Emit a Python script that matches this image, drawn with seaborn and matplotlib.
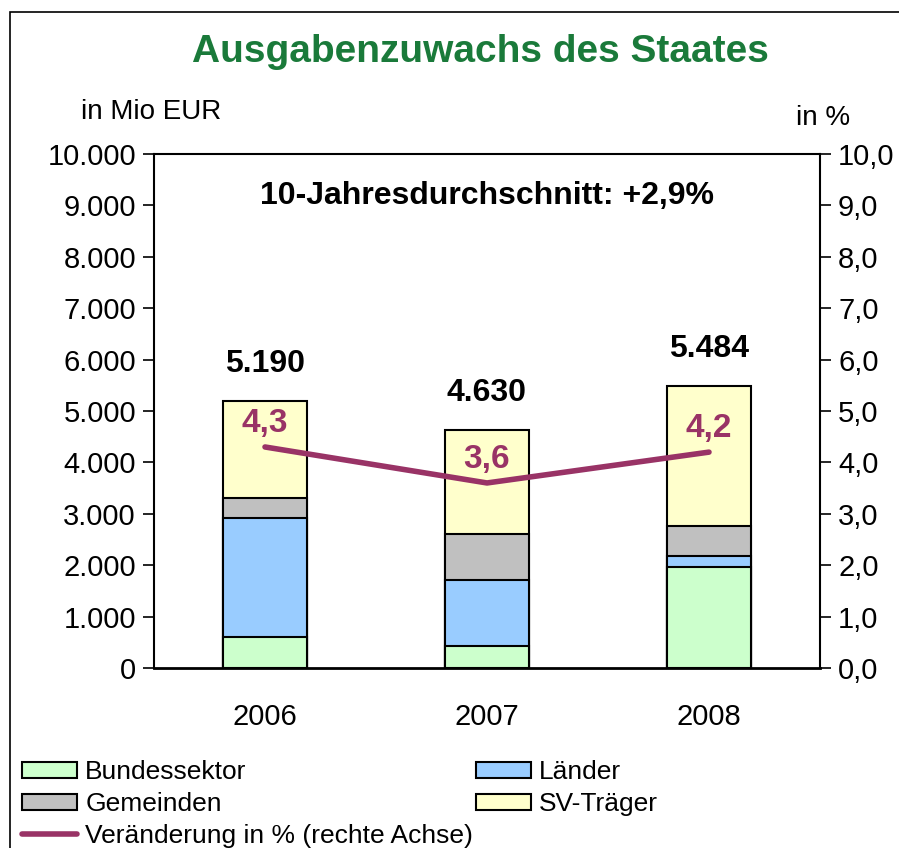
import numpy as np
import pandas as pd
import matplotlib
matplotlib.use('Agg')
from matplotlib import pyplot as plt
from matplotlib.patches import Patch, Rectangle
from matplotlib.lines import Line2D
import seaborn as sns

# DATA
years = ['2006', '2007', '2008']
bund = [600, 430, 1970]
laender = [2320, 1280, 210]
gemeinden = [390, 890, 580]
sv = [1880, 2030, 2724]
pct = [4.3, 3.6, 4.2]
left_ticks = [0, 1000, 2000, 3000, 4000, 5000, 6000, 7000, 8000, 9000, 10000]
right_ticks = [0, 1, 2, 3, 4, 5, 6, 7, 8, 9, 10]

layer_names = ['Bundessektor', 'Länder', 'Gemeinden', 'SV-Träger']
layer_colors = ['#CCFFCC', '#99CCFF', '#C0C0C0', '#FFFFCC']
line_color = '#993366'
title_color = '#1A7A3A'

sns.set_style('white')
plt.rcParams['font.family'] = ['Liberation Sans', 'DejaVu Sans']
plt.rcParams['text.color'] = 'black'
plt.rcParams['xtick.color'] = 'black'
plt.rcParams['ytick.color'] = 'black'
plt.rcParams['axes.labelcolor'] = 'black'

df = pd.DataFrame({'year': years, 'Bundessektor': bund, 'Länder': laender,
                   'Gemeinden': gemeinden, 'SV-Träger': sv})
cum = df[layer_names].cumsum(axis=1)
totals = cum['SV-Träger'].tolist()

fig = plt.figure(figsize=(8.99, 8.48), dpi=100)
ax = fig.add_axes([154/899, 1-668/848, 666/899, 514/848])

# stacked bars drawn as overlapping cumulative bars, top layer first
for name, col in reversed(list(zip(layer_names, layer_colors))):
    sns.barplot(x=df['year'], y=cum[name], color=col, saturation=1,
                edgecolor='black', linewidth=1.5, width=0.38, ax=ax)

ax.set_ylim(0, 10000)
ax.set_xlim(-0.5, 2.5)
ax.set_yticks(left_ticks)
ax.set_yticklabels([f"{v:,.0f}".replace(',', '.') for v in left_ticks])
ax.set_xticks([0, 1, 2])
ax.set_xticklabels(years)
ax.set_xticks([-0.5, 0.5, 1.5, 2.5], minor=True)
ax.tick_params(axis='x', which='major', length=0, pad=25, labelsize=21)
ax.tick_params(axis='x', which='minor', length=8, width=1.2, direction='out', color='black')
ax.tick_params(axis='y', length=8, width=1.2, direction='out', color='black', labelsize=21, pad=5)
ax.set_xlabel('')
ax.set_ylabel('')
for s in ax.spines.values():
    s.set_color('black')
    s.set_linewidth(1.5)
ax.spines['bottom'].set_linewidth(2)

for i, t in enumerate(totals):
    ax.annotate(f"{t:,.0f}".replace(',', '.'), (i, t), xytext=(0, 26.6),
                textcoords='offset points', ha='center', va='center',
                fontsize=23, fontweight='bold', color='black')

ax.text(0.5, 0.918, '10-Jahresdurchschnitt: +2,9%', transform=ax.transAxes,
        ha='center', va='center', fontsize=23, fontweight='bold', color='black')

ax2 = ax.twinx()
sns.lineplot(x=np.arange(len(years)), y=pct, color=line_color, linewidth=4,
             ax=ax2, legend=False)
ax2.set_ylim(0, 10)
ax2.set_xlim(-0.5, 2.5)
ax2.set_yticks(right_ticks)
ax2.set_yticklabels([f"{v:.1f}".replace('.', ',') for v in right_ticks])
ax2.tick_params(axis='y', length=8, width=1.2, direction='out', color='black', labelsize=21, pad=5)
ax2.set_ylabel('')
for s in ax2.spines.values():
    s.set_visible(False)
for i, p in enumerate(pct):
    ax2.annotate(f"{p:.1f}".replace('.', ','), (i, p), xytext=(0, 17),
                 textcoords='offset points', ha='center', va='center',
                 fontsize=24, fontweight='bold', color=line_color)

fig.text(480/899, 1-52/848, 'Ausgabenzuwachs des Staates', ha='center', va='center',
         fontsize=28, fontweight='bold', color=title_color)
fig.text(151/899, 1-112/848, 'in Mio EUR', ha='center', va='center', fontsize=20)
fig.text(823/899, 1-118/848, 'in %', ha='center', va='center', fontsize=20)

handles = [Patch(facecolor=layer_colors[0], edgecolor='black', linewidth=1.5),
           Patch(facecolor=layer_colors[2], edgecolor='black', linewidth=1.5),
           Line2D([0], [0], color=line_color, linewidth=4),
           Patch(facecolor=layer_colors[1], edgecolor='black', linewidth=1.5),
           Patch(facecolor=layer_colors[3], edgecolor='black', linewidth=1.5)]
labels = ['Bundessektor', 'Gemeinden', 'Veränderung in % (rechte Achse)', 'Länder', 'SV-Träger']
fig.legend(handles, labels, loc='upper left', bbox_to_anchor=(0.0245, 0.1036), ncol=2,
           frameon=False, fontsize=19, handlelength=2.1, handleheight=0.55,
           handletextpad=0.3, labelspacing=0.3, columnspacing=0.1, borderaxespad=0,
           borderpad=0)

fig.patches.append(Rectangle((10/899, -0.1), 2, 1-12/848+0.1, transform=fig.transFigure,
                             fill=False, edgecolor='black', linewidth=1.2, figure=fig))

fig.savefig('out.png', dpi=100)
